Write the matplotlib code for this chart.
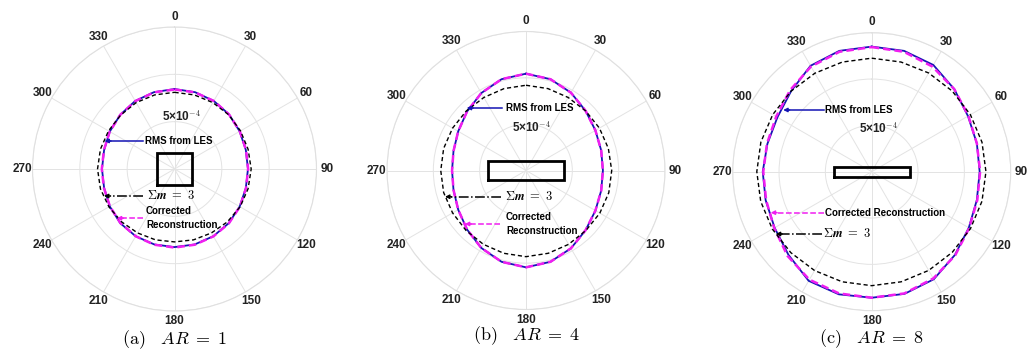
import numpy as np
import matplotlib
matplotlib.use('Agg')
import matplotlib.pyplot as plt

plt.rcParams['mathtext.fontset'] = 'cm'
plt.rcParams['font.family'] = ['Liberation Sans', 'DejaVu Sans']

# sampling angles, degrees clockwise from the top
angles = [0, 15, 30, 45, 60, 75, 90, 105, 120, 135, 150, 165,
          180, 195, 210, 225, 240, 255, 270, 285, 300, 315, 330, 345]

# RMS of the surface quantity, in units of 1e-4
les_ar1 = [8.45, 8.4, 8.3, 8.15, 7.95, 7.8, 7.76, 7.8, 7.95, 8.1, 8.2, 8.25,
           8.25, 8.25, 8.2, 8.1, 7.9, 7.7, 7.66, 7.7, 7.9, 8.1, 8.3, 8.4]
rec_ar1 = [8.4, 8.38, 8.3, 8.15, 7.97, 7.82, 7.78, 7.82, 7.97, 8.12, 8.22, 8.28,
           8.3, 8.28, 8.2, 8.08, 7.88, 7.72, 7.68, 7.72, 7.9, 8.1, 8.28, 8.38]
sig_ar1 = [8.1, 8.1, 8.1, 8.1, 8.05, 8.05, 8.1, 8.05, 8.0, 7.9, 7.8, 7.75,
           7.7, 7.75, 7.8, 7.9, 8.0, 8.1, 8.13, 8.1, 8.05, 8.05, 8.1, 8.1]

les_ar4 = [10.45, 10.2, 9.7, 9.1, 8.65, 8.4, 8.3, 8.4, 8.65, 9.1, 9.7, 10.2,
           10.45, 10.2, 9.65, 9.0, 8.45, 8.1, 7.98, 8.1, 8.45, 9.0, 9.65, 10.2]
rec_ar4 = [10.45, 10.2, 9.7, 9.1, 8.65, 8.4, 8.3, 8.4, 8.65, 9.1, 9.7, 10.2,
           10.45, 10.2, 9.65, 9.0, 8.45, 8.1, 7.98, 8.1, 8.45, 9.0, 9.65, 10.2]
sig_ar4 = [9.2, 9.15, 9.1, 9.1, 9.15, 9.2, 9.25, 9.25, 9.2, 9.15, 9.2, 9.25,
           9.3, 9.25, 9.2, 9.15, 9.15, 9.2, 9.2, 9.2, 9.15, 9.1, 9.1, 9.15]

les_ar8 = [13.5, 13.5, 13.3, 12.6, 12.0, 11.75, 11.65, 11.75, 12.1, 12.7, 13.4, 13.65,
           13.6, 13.7, 13.6, 12.7, 12.1, 11.85, 11.76, 11.65, 11.75, 12.3, 13.2, 13.5]
rec_ar8 = [13.45, 13.4, 13.1, 12.6, 12.05, 11.75, 11.7, 11.8, 12.15, 12.75, 13.3, 13.6,
           13.6, 13.6, 13.45, 12.85, 12.15, 11.8, 11.7, 11.7, 11.9, 12.45, 13.1, 13.4]
sig_ar8 = [12.25, 12.25, 12.3, 12.3, 12.3, 12.32, 12.33, 12.32, 12.3, 12.3, 12.3, 12.3,
           12.3, 12.3, 12.32, 12.35, 12.38, 12.4, 12.4, 12.38, 12.33, 12.3, 12.27, 12.25]

# cylinder cross-section half sizes (same units as the RMS)
body_half_w = [1.8, 4.1, 4.1]
body_half_h = [1.72, 1.0, 0.54]
captions = [r'$\mathrm{(a)}\ \ \ AR\;=\;1$', r'$\mathrm{(b)}\ \ \ AR\;=\;4$',
            r'$\mathrm{(c)}\ \ \ AR\;=\;8$']

RMAX = 15
C_LES = '#1414b4'
C_REC = '#f01ef0'
SIG_TXT = r'$\mathbf{\Sigma}\boldsymbol{m}\ \mathbf{=\ 3}$'
SIG_DASH = (0, (3, 2))
REC_DASH = (0, (3, 1.6))


def closed(vals):
    th = np.deg2rad(angles + [angles[0]])
    return th, np.array(vals + [vals[0]])


def arrow(ax, x0, x1, y, color, ls):
    # line from the label to the curve, with a small solid head at the curve
    ax.plot([x0, x1 + 0.6], [y, y], color=color, lw=1.1, ls=ls)
    ax.annotate('', xy=(x1, y), xytext=(x1 + 0.7, y),
                arrowprops=dict(arrowstyle='-|>', color=color, lw=1.0,
                                mutation_scale=6, shrinkA=0, shrinkB=0))


def draw_panel(fig, rect, les, rec, sig, hw, hh):
    ax = fig.add_axes(rect, projection='polar')
    ax.set_theta_zero_location('N')
    ax.set_theta_direction(-1)
    ax.set_ylim(0, RMAX)
    ax.set_yticks([5, 10, 15])
    ax.set_yticklabels([])
    ax.set_thetagrids(range(0, 360, 30), [str(a) for a in range(0, 360, 30)],
                      fontsize=8.5, fontweight='bold', color='#222222')
    ax.tick_params(axis='x', pad=-3)
    ax.grid(color='#e3e3e3', lw=0.7)
    ax.spines['polar'].set_color('#e0e0e0')
    ax.spines['polar'].set_linewidth(0.8)

    th, r = closed(les)
    ax.plot(th, r, color=C_LES, lw=1.3)
    th, r = closed(rec)
    ax.plot(th, r, color=C_REC, lw=1.8, ls=REC_DASH)
    th, r = closed(sig)
    ax.plot(th, r, color='black', lw=1.0, ls=SIG_DASH)

    # overlay in cartesian units for the body and the labels
    ov = fig.add_axes(rect)
    ov.set_xlim(-RMAX, RMAX)
    ov.set_ylim(-RMAX, RMAX)
    ov.axis('off')
    ov.patch.set_alpha(0)
    bx = [-hw, hw, hw, -hw, -hw]
    by = [-hh, -hh, hh, hh, -hh]
    ov.plot(bx, by, color='black', lw=2.0, solid_joinstyle='miter')
    return ax, ov


fig = plt.figure(figsize=(10.28, 3.53), dpi=100)

W, H = 1028.0, 353.0


def rect_px(cx, cy, rad):
    return [(cx - rad) / W, (H - cy - rad) / H, 2 * rad / W, 2 * rad / H]


data = [(les_ar1, rec_ar1, sig_ar1), (les_ar4, rec_ar4, sig_ar4), (les_ar8, rec_ar8, sig_ar8)]
centers = [(174.5, 169.0, 142.0), (526.0, 170.5, 139.0), (871.7, 171.7, 139.0)]

ovs = []
for i in range(3):
    les, rec, sig = data[i]
    cx, cy, rad = centers[i]
    _, ov = draw_panel(fig, rect_px(cx, cy, rad), les, rec, sig, body_half_w[i], body_half_h[i])
    ovs.append(ov)

lbl = dict(fontsize=7, fontweight='bold', va='center', ha='left')
rlbl = dict(fontsize=8.5, fontweight='bold', ha='center', va='center', color='#222222')

# (a)
ov = ovs[0]
ov.text(0.77, 5.6, '5×10$^{-4}$', **rlbl)
ov.text(-3.1, 2.96, 'RMS from LES', **lbl)
arrow(ov, -3.3, -7.4, 2.96, C_LES, '-')
ov.text(-2.9, -2.85, SIG_TXT, fontsize=9, va='center', ha='left')
arrow(ov, -3.3, -7.45, -2.85, 'black', '-.')
ov.text(-3.0, -4.45, 'Corrected', **lbl)
ov.text(-3.0, -5.95, 'Reconstruction', **lbl)
arrow(ov, -3.3, -6.1, -5.2, C_REC, '--')

# (b)
ov = ovs[1]
ov.text(0.65, 4.7, '5×10$^{-4}$', **rlbl)
ov.text(-2.16, 6.74, 'RMS from LES', **lbl)
arrow(ov, -2.6, -6.4, 6.74, C_LES, '-')
ov.text(-2.27, -2.83, SIG_TXT, fontsize=9, va='center', ha='left')
arrow(ov, -2.7, -8.74, -2.83, 'black', '-.')
ov.text(-2.16, -4.98, 'Corrected', **lbl)
ov.text(-2.16, -6.5, 'Reconstruction', **lbl)
arrow(ov, -2.8, -6.6, -5.77, C_REC, '--')

# (c)
ov = ovs[2]
ov.text(0.79, 4.7, '5×10$^{-4}$', **rlbl)
ov.text(-5.04, 6.66, 'RMS from LES', **lbl)
arrow(ov, -5.1, -9.55, 6.66, C_LES, '-')
ov.text(-5.04, -4.42, 'Corrected Reconstruction', **lbl)
arrow(ov, -5.1, -10.9, -4.42, C_REC, '--')
ov.text(-5.26, -6.72, SIG_TXT, fontsize=9, va='center', ha='left')
arrow(ov, -5.4, -10.35, -6.72, 'black', '-.')

cap_pos = [(174.5, 340), (526.0, 336), (871.7, 339)]
for (x, y), cap in zip(cap_pos, captions):
    fig.text(x / W, 1 - y / H, cap, fontsize=13, ha='center', va='center')

fig.savefig('out.png', dpi=100)
